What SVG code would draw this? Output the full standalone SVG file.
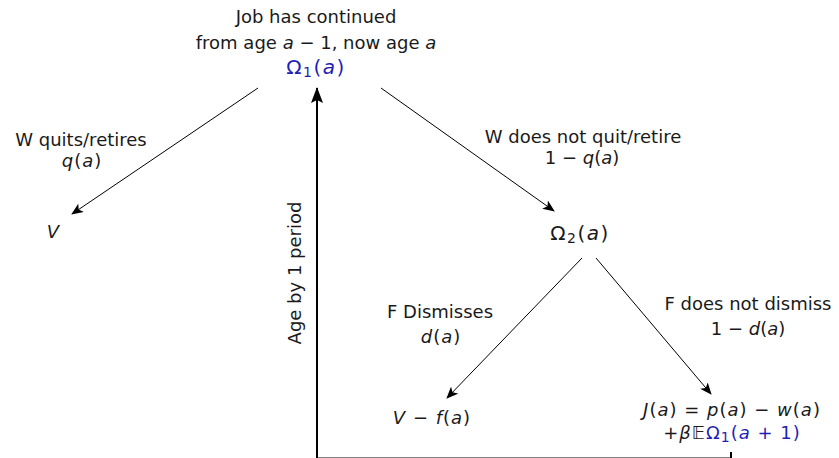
<svg xmlns="http://www.w3.org/2000/svg" width="839" height="458" viewBox="0 0 839 458">
<style>
text{font-family:"DejaVu Sans","Liberation Sans",sans-serif;font-size:18px;fill:#1a1a1a;text-anchor:middle}
.i{font-style:italic}
.b{fill:#1f1fb4}
.m{letter-spacing:1px}
.om{font-size:20px;letter-spacing:1.5px}
.sub{font-size:14px}
.edge{stroke:#000;stroke-width:1;fill:none}
</style>
<defs>
<marker id="ah" markerWidth="12" markerHeight="10" refX="11" refY="5" orient="auto" markerUnits="userSpaceOnUse">
<path d="M0,0 L12,5 L0,10 L3,5 Z" fill="#000"/>
</marker>
<marker id="ah2" markerWidth="16" markerHeight="12" refX="15" refY="6" orient="auto" markerUnits="userSpaceOnUse">
<path d="M0,0 L16,6 L0,12 L3,6 Z" fill="#000"/>
</marker>
</defs>
<g id="connectors">
<line class="edge" x1="258" y1="88" x2="72" y2="214" marker-end="url(#ah)"/>
<line class="edge" x1="381" y1="88" x2="554" y2="211" marker-end="url(#ah)"/>
<line class="edge" x1="582" y1="258" x2="447" y2="398" marker-end="url(#ah)"/>
<line class="edge" x1="596" y1="258" x2="711" y2="394" marker-end="url(#ah)"/>
<path d="M731,452 V458.5 H317 V88" stroke="#000" stroke-width="2" fill="none" marker-end="url(#ah2)"/>
</g>
<g id="omega1">
<text x="316" y="23">Job has continued</text>
<text x="316" y="49">from age <tspan class="i">a</tspan> − 1, now age <tspan class="i">a</tspan></text>
<text x="316" y="74" class="b om">Ω<tspan class="sub" dy="3">1</tspan><tspan dy="-3">(</tspan><tspan class="i">a</tspan>)</text>
</g>
<g id="label-quit">
<text x="81" y="146">W quits/retires</text>
<text x="82" y="167" class="m"><tspan class="i">q</tspan>(<tspan class="i">a</tspan>)</text>
</g>
<g id="V"><text x="53" y="238" class="i">V</text></g>
<g id="label-noquit">
<text x="583" y="143">W does not quit/retire</text>
<text x="582" y="164">1 − <tspan class="i">q</tspan>(<tspan class="i">a</tspan>)</text>
</g>
<g id="omega2"><text x="580" y="240" class="om">Ω<tspan class="sub" dy="3">2</tspan><tspan dy="-3">(</tspan><tspan class="i">a</tspan>)</text></g>
<g id="label-dismiss">
<text x="440" y="318">F Dismisses</text>
<text x="441" y="343" class="m"><tspan class="i">d</tspan>(<tspan class="i">a</tspan>)</text>
</g>
<g id="Vf"><text x="432" y="424" class="m"><tspan class="i">V</tspan> − <tspan class="i">f</tspan>(<tspan class="i">a</tspan>)</text></g>
<g id="label-nodismiss">
<text x="748" y="310">F does not dismiss</text>
<text x="748" y="335">1 − <tspan class="i">d</tspan>(<tspan class="i">a</tspan>)</text>
</g>
<g id="J">
<text x="732" y="416" class="m"><tspan class="i">J</tspan>(<tspan class="i">a</tspan>) = <tspan class="i">p</tspan>(<tspan class="i">a</tspan>) − <tspan class="i">w</tspan>(<tspan class="i">a</tspan>)</text>
<text x="732" y="439" class="m">+<tspan class="i">β</tspan>𝔼<tspan class="b">Ω<tspan class="sub" dy="3">1</tspan><tspan dy="-3">(</tspan><tspan class="i">a</tspan> + 1)</tspan></text>
</g>
<g id="age-label">
<text x="0" y="0" transform="translate(301,273) rotate(-90)">Age by 1 period</text>
</g>
</svg>
